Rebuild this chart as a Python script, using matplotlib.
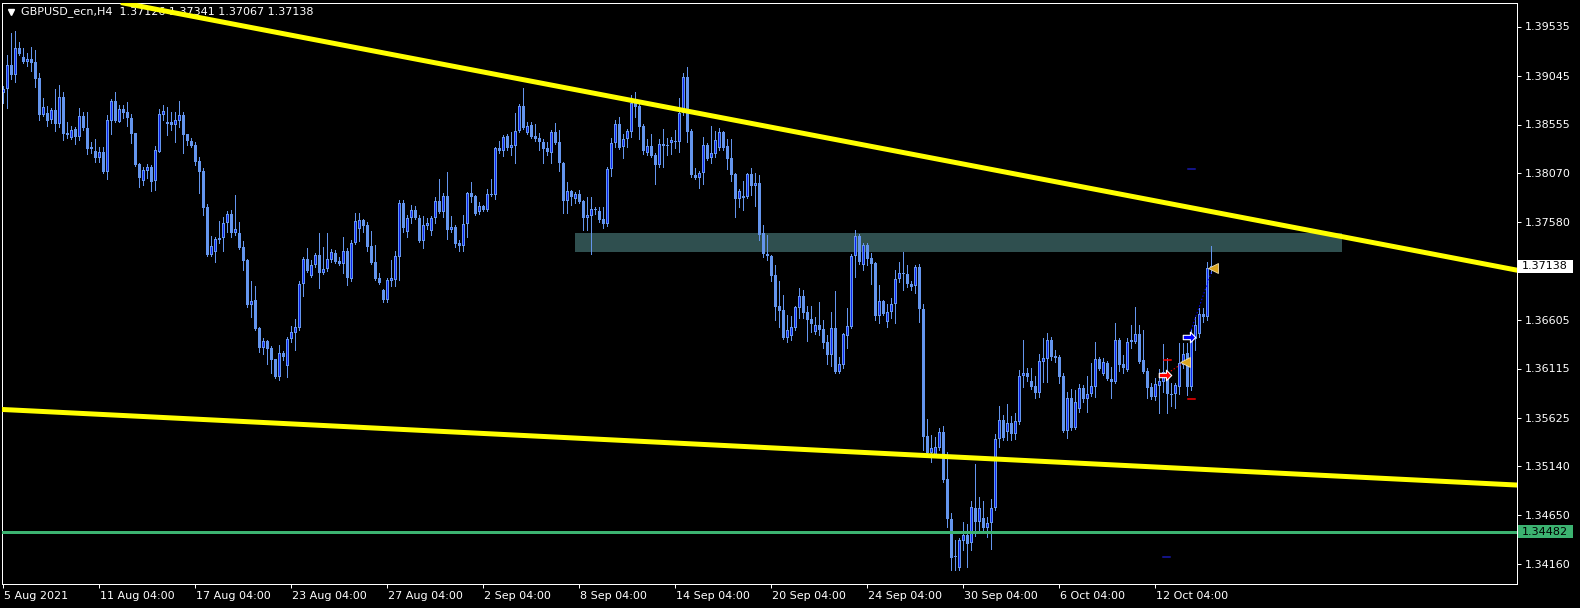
import numpy as np
import matplotlib
matplotlib.use("Agg")
import matplotlib.pyplot as plt
from matplotlib.patches import Rectangle
from matplotlib.path import Path
import matplotlib.transforms as mtransforms

# ---------------- data (prices in 1e-4 units) ----------------
symbol_title = "GBPUSD_ecn,H4"
header_ohlc = "1.37126 1.37341 1.37067 1.37138"

opens = np.array([
13887,13891,13915,13905,13932,13923,13918,13921,13918,13902,
13865,13867,13860,13870,13856,13883,13847,13842,13851,13843,
13864,13852,13833,13829,13822,13828,13808,13859,13879,13858,
13871,13868,13862,13847,13816,13799,13809,13813,13799,13828,
13865,13858,13858,13855,13859,13865,13846,13839,13835,13819,
13809,13773,13725,13728,13742,13742,13757,13766,13747,13747,
13733,13720,13675,13680,13652,13632,13639,13632,13621,13603,
13627,13614,13641,13647,13652,13696,13721,13704,13715,13725,
13707,13711,13720,13727,13719,13716,13729,13701,13737,13751,
13760,13755,13734,13718,13702,13690,13680,13699,13700,13723,
13777,13748,13762,13770,13762,13739,13754,13749,13762,13779,
13768,13784,13750,13753,13737,13734,13756,13787,13784,13768,
13774,13770,13786,13785,13832,13829,13844,13832,13834,13849,
13874,13847,13855,13844,13842,13838,13832,13827,13848,13838,
13817,13779,13789,13781,13786,13779,13762,13764,13771,13769,
13761,13756,13811,13837,13856,13833,13841,13848,13878,13874,
13854,13827,13834,13825,13815,13836,13835,13837,13839,13838,
13867,13903,13849,13805,13802,13807,13835,13822,13826,13832,
13848,13834,13822,13806,13781,13784,13783,13806,13794,13797,
13747,13726,13724,13705,13674,13670,13642,13644,13652,13672,
13684,13668,13661,13648,13655,13651,13638,13625,13652,13608,
13615,13644,13653,13724,13744,13715,13735,13722,13717,13664,
13679,13658,13668,13676,13701,13707,13706,13696,13694,13713,
13671,13544,13527,13525,13532,13548,13501,13461,13424,13412,
13439,13445,13437,13472,13458,13462,13452,13457,13472,13541,
13560,13548,13557,13546,13558,13604,13607,13599,13594,13587,
13618,13621,13640,13624,13623,13604,13549,13582,13552,13571,
13592,13581,13586,13593,13621,13606,13617,13601,13598,13640,
13616,13610,13638,13638,13646,13620,13609,13593,13583,13594,
13598,13607,13586,13586,13593,13615,13627,13593,13641,13646,
13666,13663,13712.6]) / 1e4

closes = np.array([
13891,13915,13905,13932,13926,13918,13921,13917,13901,13865,
13873,13859,13870,13856,13883,13846,13845,13850,13843,13864,
13852,13831,13831,13822,13828,13808,13860,13879,13859,13871,
13867,13862,13846,13815,13802,13810,13813,13798,13830,13866,
13869,13856,13855,13860,13865,13845,13839,13834,13818,13808,
13772,13725,13734,13741,13740,13757,13766,13747,13751,13732,
13719,13675,13679,13651,13632,13639,13631,13620,13603,13627,
13623,13641,13648,13653,13696,13721,13709,13715,13725,13707,
13711,13721,13728,13718,13716,13729,13702,13737,13759,13760,
13754,13733,13717,13701,13697,13680,13700,13702,13724,13777,
13752,13762,13770,13762,13739,13755,13757,13762,13779,13768,
13784,13750,13753,13736,13734,13756,13787,13783,13766,13774,
13770,13786,13785,13832,13829,13843,13832,13835,13849,13874,
13852,13854,13843,13841,13838,13831,13828,13848,13837,13817,
13779,13789,13783,13786,13778,13762,13765,13771,13770,13760,
13756,13811,13837,13856,13832,13841,13849,13877,13873,13853,
13829,13834,13824,13815,13836,13834,13834,13840,13838,13867,
13903,13848,13805,13802,13807,13835,13821,13827,13840,13848,
13832,13821,13805,13781,13789,13782,13806,13794,13797,13745,
13726,13724,13704,13673,13669,13642,13650,13653,13673,13684,
13667,13660,13656,13655,13650,13637,13625,13652,13608,13616,
13646,13654,13724,13744,13718,13735,13721,13716,13664,13679,
13666,13668,13676,13701,13707,13706,13696,13693,13713,13671,
13543,13527,13532,13533,13548,13500,13461,13422,13423,13440,
13445,13436,13473,13458,13472,13452,13457,13472,13541,13560,
13542,13557,13546,13559,13604,13607,13603,13593,13587,13619,
13622,13640,13623,13622,13603,13549,13582,13552,13578,13592,
13581,13586,13594,13621,13611,13618,13601,13598,13640,13615,
13612,13638,13640,13646,13618,13608,13592,13583,13596,13599,
13608,13586,13585,13595,13617,13626,13593,13641,13655,13666,
13663,13712,13713.8]) / 1e4

highs = np.array([
13894,13925,13947,13949,13938,13932,13927,13933,13930,13907,
13882,13874,13872,13891,13895,13888,13858,13854,13853,13872,
13868,13868,13838,13841,13833,13833,13865,13881,13888,13875,
13875,13878,13866,13847,13817,13813,13816,13815,13834,13871,
13875,13873,13868,13868,13879,13868,13846,13842,13838,13823,
13812,13776,13744,13743,13759,13763,13769,13770,13785,13758,
13739,13721,13699,13694,13653,13642,13640,13634,13621,13635,
13629,13643,13654,13661,13699,13723,13732,13720,13727,13747,
13733,13747,13731,13730,13723,13743,13732,13740,13767,13767,
13761,13758,13749,13735,13707,13691,13702,13720,13729,13780,
13780,13765,13775,13774,13765,13764,13762,13764,13783,13801,
13787,13808,13764,13755,13740,13765,13788,13798,13785,13778,
13775,13791,13801,13833,13839,13845,13846,13848,13867,13876,
13892,13858,13858,13856,13847,13841,13838,13850,13857,13850,
13818,13798,13790,13788,13790,13780,13783,13783,13773,13773,
13773,13813,13842,13860,13863,13846,13851,13885,13888,13880,
13856,13841,13846,13827,13841,13851,13842,13843,13850,13882,
13907,13913,13851,13812,13809,13843,13837,13854,13849,13852,
13849,13841,13841,13807,13791,13799,13807,13812,13807,13805,
13755,13745,13725,13715,13699,13685,13665,13664,13674,13692,
13690,13674,13674,13663,13678,13660,13645,13668,13689,13623,
13647,13672,13726,13750,13746,13737,13737,13727,13718,13695,
13680,13676,13682,13710,13718,13728,13715,13699,13715,13716,
13676,13561,13545,13543,13552,13554,13528,13467,13440,13442,
13458,13456,13479,13516,13483,13479,13463,13481,13546,13574,
13565,13576,13564,13567,13610,13640,13612,13612,13604,13626,
13642,13647,13643,13630,13625,13607,13588,13591,13590,13596,
13595,13604,13617,13638,13623,13622,13619,13613,13657,13642,
13625,13642,13655,13673,13655,13650,13612,13597,13602,13611,
13636,13622,13597,13597,13637,13637,13637,13651,13663,13672,
13672,13718,13734.1]) / 1e4

lows = np.array([
13877,13872,13901,13898,13925,13917,13914,13909,13893,13860,
13864,13854,13857,13849,13853,13840,13842,13841,13836,13840,
13850,13826,13827,13818,13818,13807,13801,13846,13858,13858,
13862,13854,13837,13814,13793,13795,13802,13789,13790,13828,
13860,13845,13850,13838,13853,13827,13835,13833,13815,13787,
13765,13724,13724,13718,13737,13729,13748,13743,13745,13731,
13710,13673,13663,13650,13628,13626,13616,13607,13602,13600,
13620,13603,13638,13630,13650,13684,13708,13703,13713,13692,
13706,13709,13718,13717,13715,13707,13695,13699,13736,13739,
13748,13729,13716,13700,13696,13678,13678,13694,13694,13700,
13748,13743,13757,13761,13738,13732,13751,13745,13757,13767,
13763,13741,13748,13733,13729,13729,13743,13778,13765,13766,
13769,13769,13784,13781,13827,13824,13830,13825,13817,13848,
13851,13846,13842,13839,13830,13817,13825,13817,13836,13809,
13767,13767,13775,13777,13777,13750,13750,13726,13766,13758,
13752,13754,13804,13833,13831,13822,13833,13843,13863,13841,
13826,13825,13823,13796,13813,13813,13825,13826,13832,13828,
13865,13838,13803,13801,13792,13796,13820,13817,13823,13830,
13830,13811,13799,13763,13773,13770,13782,13785,13774,13740,
13723,13720,13699,13660,13653,13641,13638,13640,13650,13662,
13662,13639,13648,13646,13645,13632,13616,13614,13607,13607,
13612,13632,13652,13703,13716,13710,13715,13696,13660,13657,
13665,13653,13662,13657,13698,13690,13693,13690,13687,13658,
13530,13526,13518,13523,13530,13498,13453,13410,13410,13410,
13430,13413,13430,13444,13448,13450,13443,13431,13470,13533,
13540,13540,13540,13541,13556,13593,13599,13591,13582,13583,
13598,13598,13620,13618,13597,13548,13542,13550,13551,13568,
13578,13568,13584,13583,13610,13605,13600,13582,13597,13609,
13607,13609,13632,13637,13617,13607,13582,13581,13580,13567,
13588,13567,13574,13572,13586,13612,13585,13590,13630,13643,
13658,13660,13706.7]) / 1e4

x_tick_bars = [0, 24, 48, 72, 96, 120, 144, 168, 192, 216, 240, 264, 288]
x_tick_labels = ["5 Aug 2021", "11 Aug 04:00", "17 Aug 04:00", "23 Aug 04:00",
                 "27 Aug 04:00", "2 Sep 04:00", "8 Sep 04:00", "14 Sep 04:00",
                 "20 Sep 04:00", "24 Sep 04:00", "30 Sep 04:00", "6 Oct 04:00",
                 "12 Oct 04:00"]
y_ticks = [1.39535, 1.39045, 1.38555, 1.38070, 1.37580, 1.37090,
           1.36605, 1.36115, 1.35625, 1.35140, 1.34650, 1.34160]

upper_trend = [(27.4, 1.3979), (378.2, 1.3710)]
lower_trend = [(-0.1, 1.35705), (378.2, 1.3495)]
support_level = 1.34482
last_price = 1.37138
zone_bars = (142.9, 334.7)
zone_prices = (1.3728, 1.3747)

# trade objects
sell_arrow = (290.4, 1.3605)
buy_arrow = (296.4, 1.36435)
close_marks = [(295.5, 1.36185), (302.4, 1.37125)]
red_levels = [((290.2, 291.9), 1.3620), ((296.2, 297.9), 1.3581)]
blue_levels = [((296.2, 297.9), 1.3811), ((290.0, 291.7), 1.3423)]

# ---------------- figure ----------------
W, H, DPI = 1580, 608, 100
fig = plt.figure(figsize=(W / DPI, H / DPI), dpi=DPI, facecolor="black")
L, R, T, B = 2, 1517, 3, 584
ax = fig.add_axes([L / W, 1 - B / H, (R - L) / W, (B - T) / H])
ax.set_facecolor("black")
ax.set_xlim((L - 3.3) / 4, (R - 3.3) / 4)
ax.set_ylim(1.3396, 1.3977)

PX = 0.72  # one pixel in points
LIGHT = "#6495ED"
DARK = "#0A22F0"

n = len(closes)
x = np.arange(n)
ax.vlines(x, lows, highs, colors=LIGHT, linewidth=PX, antialiased=False, zorder=2)
body_lo = np.minimum(opens, closes)
body_h = np.maximum(np.abs(closes - opens), 0.0001)
ax.bar(x, body_h, bottom=body_lo, width=0.75, color=LIGHT, linewidth=0,
       antialiased=False, zorder=2.1)
bull = closes > opens
inner_h = body_h - 0.0002
sel = bull & (inner_h > 0.00005)
ax.bar(x[sel], inner_h[sel], bottom=body_lo[sel] + 0.0001, width=0.25, color=DARK,
       linewidth=0, antialiased=False, zorder=2.2)

# zone rectangle
ax.add_patch(Rectangle((zone_bars[0], zone_prices[0]), zone_bars[1] - zone_bars[0],
                       zone_prices[1] - zone_prices[0], facecolor="#2F4F4F",
                       edgecolor="none", zorder=1))

# trend lines and level
ax.axline(upper_trend[0], upper_trend[1], color="#FFFF00", linewidth=5 * PX, zorder=3)
ax.axline(lower_trend[0], lower_trend[1], color="#FFFF00", linewidth=5 * PX, zorder=3)
ax.axhline(support_level, color="#3CB371", linewidth=3 * PX, zorder=3)

# trade markers
arrow = Path([(-1, -0.35), (0.15, -0.35), (0.15, -0.85), (1, 0), (0.15, 0.85),
              (0.15, 0.35), (-1, 0.35), (-1, -0.35)],
             [Path.MOVETO] + [Path.LINETO] * 6 + [Path.CLOSEPOLY])
ax.plot([sell_arrow[0], close_marks[0][0]], [sell_arrow[1], close_marks[0][1]],
        color="#FF0000", linewidth=PX, linestyle=(0, (1.5, 2)), zorder=4)
ax.plot([buy_arrow[0], close_marks[1][0]], [buy_arrow[1], close_marks[1][1]],
        color="#0000FF", linewidth=PX, linestyle=(0, (1.5, 2)), zorder=4)
ax.plot(*sell_arrow, marker=arrow, markersize=9, markerfacecolor="#FF0000",
        markeredgecolor="white", markeredgewidth=0.8, zorder=5)
ax.plot(*buy_arrow, marker=arrow, markersize=9, markerfacecolor="#0000FF",
        markeredgecolor="white", markeredgewidth=0.8, zorder=5)
for cx, cy in close_marks:
    ax.plot(cx, cy, marker="<", markersize=7, markerfacecolor="#DAA520",
            markeredgecolor="#F0E0B0", markeredgewidth=0.6, zorder=5)
for (x0, x1), lvl in red_levels:
    ax.plot([x0, x1], [lvl, lvl], color="#FF0000", linewidth=1.5 * PX, zorder=4)
for (x0, x1), lvl in blue_levels:
    ax.plot([x0, x1], [lvl, lvl], color="#1A1AB0", linewidth=1.5 * PX, zorder=4)

# axes styling
for sp in ax.spines.values():
    sp.set_color("white")
    sp.set_linewidth(PX)
ax.yaxis.tick_right()
ax.set_yticks(y_ticks)
# the 1.37090 level label is covered by the current-price box in the original
ax.set_yticklabels(["" if abs(v - last_price) < 0.001 else f"{v:.5f}" for v in y_ticks])
ax.set_xticks(x_tick_bars)
ax.set_xticklabels(x_tick_labels)
ax.tick_params(axis="both", colors="white", labelsize=8, width=PX, length=4 * PX,
               direction="out")
ax.tick_params(axis="y", pad=3)
ax.tick_params(axis="x", pad=2)
offset = mtransforms.ScaledTranslation(1 / DPI, 0, fig.dpi_scale_trans)
for lbl in ax.get_xticklabels():
    lbl.set_horizontalalignment("left")
    lbl.set_transform(lbl.get_transform() + offset)

# header
ax.plot(11 / W, 1 - 12 / H, marker="v", markersize=5, color="white",
        transform=fig.transFigure, clip_on=False, zorder=2.5)
ax.text(21 / W, 1 - 12 / H, f"{symbol_title}  {header_ohlc}", transform=fig.transFigure,
        color="white", fontsize=8, va="center", ha="left", zorder=2.5)

# price labels on the axis
trans = mtransforms.blended_transform_factory(fig.transFigure, ax.transData)
for price, bg in [(last_price, "white"), (support_level, "#3CB371")]:
    ax.add_patch(Rectangle((1518 / W, price - 0.00065), 55 / W, 0.0013, transform=trans,
                           facecolor=bg, edgecolor="none", clip_on=False, zorder=10))
    ax.text(1522 / W, price, f"{price:.5f}", transform=trans, va="center", ha="left",
            fontsize=8, color="black", zorder=11, clip_on=False)

fig.savefig("out.png", dpi=DPI, facecolor="black")
